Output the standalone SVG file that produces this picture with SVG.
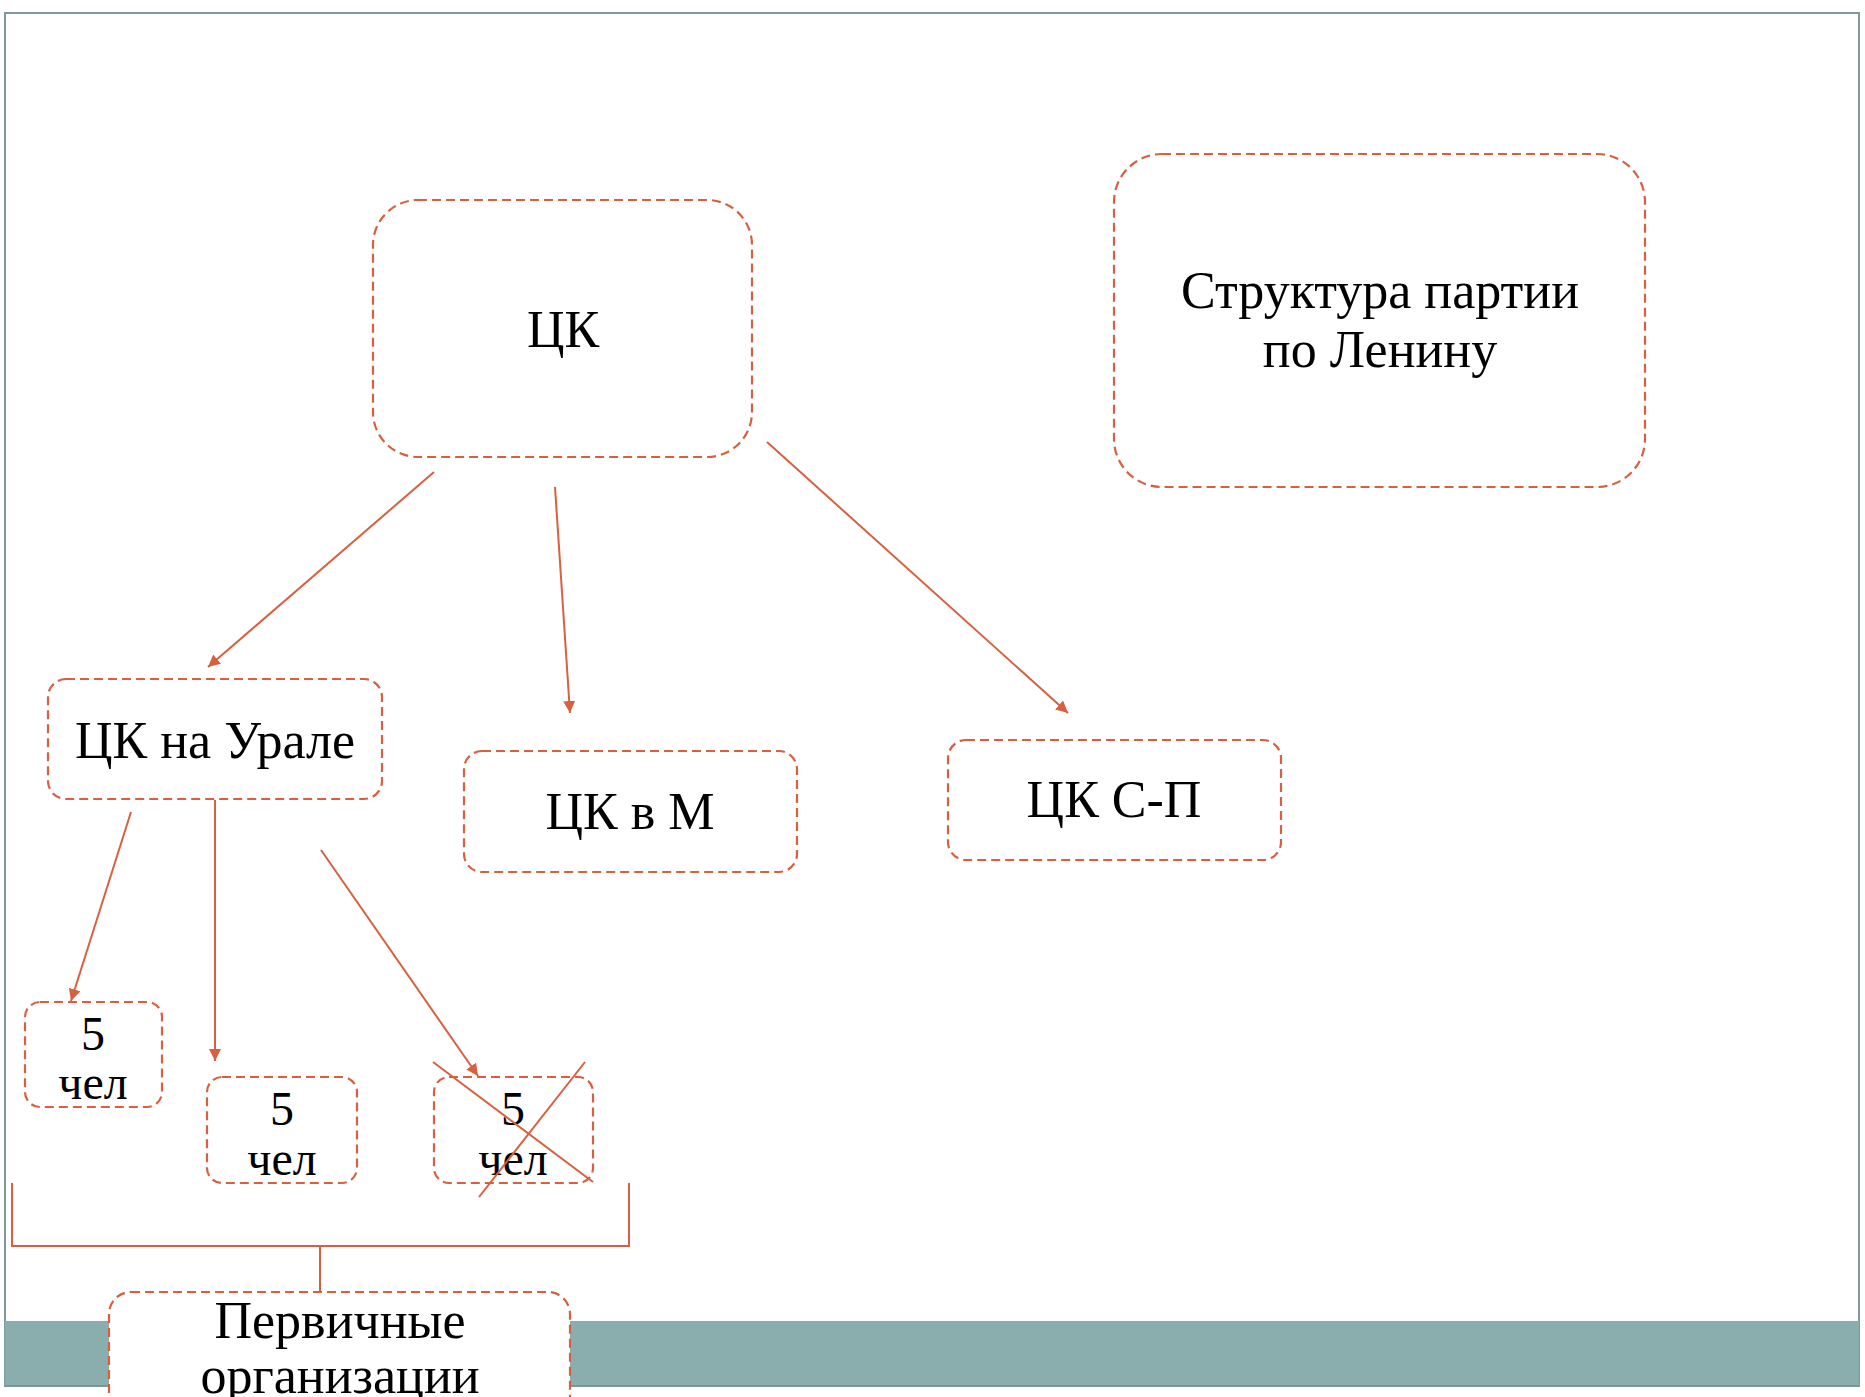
<svg xmlns="http://www.w3.org/2000/svg" width="1865" height="1397" viewBox="0 0 1865 1397">
<style>
.box{fill:#fff;stroke:#D6603F;stroke-width:2.2;stroke-dasharray:9 5}
.t{font-family:"Liberation Serif","Times New Roman",serif;font-size:52px;fill:#000;text-anchor:middle}
.s{font-family:"Liberation Serif","Times New Roman",serif;font-size:48px;fill:#000;text-anchor:middle}
.c{stroke:#D6603F;stroke-width:2;fill:none}
</style>
<defs>
<marker id="ah" viewBox="0 0 10 10" refX="10" refY="5" markerWidth="6" markerHeight="6" orient="auto" markerUnits="strokeWidth">
<path d="M0,0 L10,5 L0,10 z" fill="#D6603F"/>
</marker>
</defs>
<rect x="0" y="0" width="1865" height="1397" fill="#fff"/>
<g id="frame">
<rect x="5" y="13" width="1854" height="1373" fill="#fff" stroke="#7F9C9C" stroke-width="2"/>
<rect x="5" y="1321" width="1854" height="65" fill="#8AADAD"/>
<line x1="5" y1="1386" x2="1859" y2="1386" stroke="#7F9595" stroke-width="2"/>
</g>
<g id="connectors">
<line class="c" x1="434" y1="472" x2="208" y2="667" marker-end="url(#ah)"/>
<line class="c" x1="555" y1="487" x2="570" y2="713" marker-end="url(#ah)"/>
<line class="c" x1="767" y1="442" x2="1068" y2="713" marker-end="url(#ah)"/>
<line class="c" x1="131" y1="812" x2="71" y2="1001" marker-end="url(#ah)"/>
<line class="c" x1="215" y1="800" x2="215" y2="1061" marker-end="url(#ah)"/>
<line class="c" x1="321" y1="850" x2="478" y2="1076" marker-end="url(#ah)"/>
<polyline class="c" points="12,1183 12,1246 629,1246 629,1183"/>
<line class="c" x1="320" y1="1246" x2="320" y2="1292"/>
</g>
<g id="title">
<rect class="box" x="1114" y="154" width="531" height="333" rx="48"/>
<text class="t" x="1380" y="308">Структура партии</text>
<text class="t" x="1380" y="367">по Ленину</text>
</g>
<g id="ck">
<rect class="box" x="373" y="200" width="379" height="257" rx="45"/>
<text class="t" x="563" y="347">ЦК</text>
</g>
<g id="ck-ural">
<rect class="box" x="48" y="679" width="334" height="120" rx="18"/>
<text class="t" x="215" y="758">ЦК на Урале</text>
</g>
<g id="ck-m">
<rect class="box" x="464" y="751" width="333" height="121" rx="18"/>
<text class="t" x="630" y="829">ЦК в М</text>
</g>
<g id="ck-sp">
<rect class="box" x="948" y="740" width="333" height="120" rx="18"/>
<text class="t" x="1114" y="817">ЦК С-П</text>
</g>
<g id="p1">
<rect class="box" x="25" y="1002" width="137" height="105" rx="15"/>
<text class="s" x="93" y="1050">5</text>
<text class="s" x="93" y="1099">чел</text>
</g>
<g id="p2">
<rect class="box" x="207" y="1077" width="150" height="106" rx="15"/>
<text class="s" x="282" y="1125">5</text>
<text class="s" x="282" y="1175">чел</text>
</g>
<g id="p3">
<rect class="box" x="434" y="1077" width="159" height="106" rx="15"/>
<text class="s" x="513" y="1125">5</text>
<text class="s" x="513" y="1175">чел</text>
<line class="c" x1="433" y1="1062" x2="593" y2="1182"/>
<line class="c" x1="585" y1="1062" x2="479" y2="1197"/>
</g>
<g id="primary">
<rect class="box" x="109" y="1292" width="461" height="140" rx="22"/>
<text class="t" x="340" y="1338">Первичные</text>
<text class="t" x="340" y="1393">организации</text>
</g>
</svg>
